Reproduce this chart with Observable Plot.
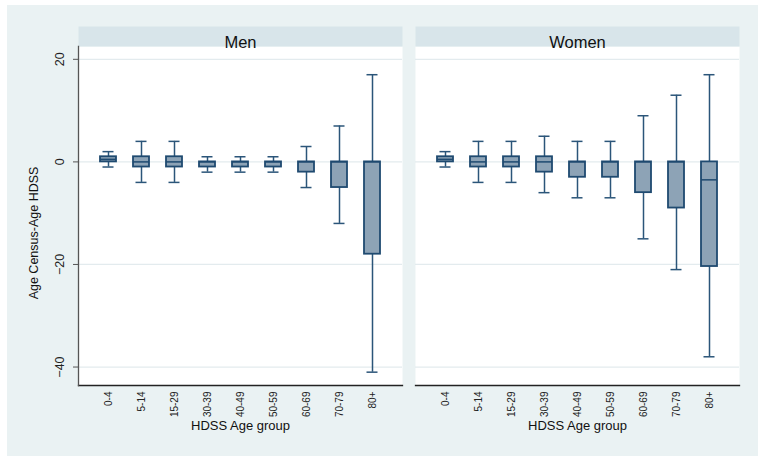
<!DOCTYPE html>
<html><head><meta charset="utf-8">
<script src="https://cdn.jsdelivr.net/npm/d3@7"></script>
<script src="https://cdn.jsdelivr.net/npm/@observablehq/plot@0.6"></script>
<style>
body{margin:0;background:#fff;font-family:"Liberation Sans",Arial,sans-serif;}
#wrap{position:relative;width:758px;height:456px;overflow:hidden;}
#bg{position:absolute;left:7px;top:5px;width:751px;height:451px;background:#eaf2f3;}
#chart{position:absolute;left:0;top:0;}
</style></head><body>
<div id="wrap"><div id="bg"></div><div id="chart"></div></div>
<script>
const sexes = ["Men", "Women"];
const ageGroups = ["0-4","5-14","15-29","30-39","40-49","50-59","60-69","70-79","80+"];
const menLow    = [-1, -4, -4, -2, -2, -2, -5, -12, -41];
const menQ1     = [ 0, -1, -1, -1, -1, -1, -2,  -5, -18];
const menMedian = [0.5, 0,  0,  0,  0,  0,  0,   0,   0];
const menQ3     = [ 1,  1,  1,  0,  0,  0,  0,   0,   0];
const menHigh   = [ 2,  4,  4,  1,  1,  1,  3,   7,  17];
const womenLow    = [-1, -4, -4, -6, -7, -7, -15, -21, -38];
const womenQ1     = [ 0, -1, -1, -2, -3, -3,  -6,  -9, -20.4];
const womenMedian = [0.5, 0,  0,  0,  0,  0,   0,   0, -3.5];
const womenQ3     = [ 1,  1,  1,  1,  0,  0,   0,   0,   0];
const womenHigh   = [ 2,  4,  4,  5,  4,  4,   9,  13,  17];
const yTicks = [20, 0, -20, -40];
const xTitle = "HDSS Age group";
const yTitle = "Age Census-Age HDSS";

const series = {
  Men: [menLow, menQ1, menMedian, menQ3, menHigh],
  Women: [womenLow, womenQ1, womenMedian, womenQ3, womenHigh]
};
const rows = [];
for (const s of sexes) {
  const [lo, q1, md, q3, hi] = series[s];
  ageGroups.forEach((a, i) => rows.push({sex: s, age: a, low: lo[i], q1: q1[i], median: md[i], q3: q3[i], high: hi[i]}));
}

const W = 758, H = 456, mL = 78, mR = 19, mT = 46, mB = 71;
const boxFill = "#8da3b6", boxStroke = "#1f4a70", whisk = "#2b5579";

const chart = Plot.plot({
  width: W, height: H,
  marginLeft: mL, marginRight: mR, marginTop: mT, marginBottom: mB,
  style: {background: "transparent", fontFamily: "'Liberation Sans', Arial, sans-serif", overflow: "visible", color: "#111"},
  fx: {domain: sexes, paddingInner: 0.0386, paddingOuter: 0, axis: null, label: null},
  x: {domain: ageGroups, paddingInner: 0.52, paddingOuter: 0.6, axis: null},
  y: {domain: [-43.6, 22.5], axis: null},
  marks: [
    Plot.frame({fill: "white", stroke: "none"}),
    Plot.frame({fill: "#d8e5ea", stroke: "none", insetTop: -20, insetBottom: H - mT - mB}),
    Plot.gridY(yTicks, {stroke: "#e3ebee", strokeOpacity: 1, strokeWidth: 1.3}),
    Plot.frame({anchor: "bottom", stroke: "#222", strokeWidth: 1.3}),
    Plot.frame({anchor: "left", stroke: "#555", strokeWidth: 1.3, facetAnchor: "left"}),
    Plot.axisY(yTicks, {tickSize: 5, tickRotate: -90, tickPadding: 10, fontSize: 12.5, label: null, stroke: "#555", fill: "#222"}),
    Plot.axisX({tickSize: 0, tickRotate: -90, tickPadding: 6, fontSize: 10, label: null, fill: "#222"}),
    Plot.ruleX(rows, {fx: "sex", x: "age", y1: "low", y2: "high", stroke: whisk, strokeWidth: 1.5}),
    Plot.barY(rows, {fx: "sex", x: "age", y1: "q1", y2: "q3", fill: boxFill, stroke: boxStroke, strokeWidth: 1.8}),
    Plot.tickY(rows, {fx: "sex", x: "age", y: "median", stroke: boxStroke, strokeWidth: 1.5}),
    Plot.tickY(rows, {fx: "sex", x: "age", y: "low", stroke: whisk, strokeWidth: 1.5, inset: 2.5}),
    Plot.tickY(rows, {fx: "sex", x: "age", y: "high", stroke: whisk, strokeWidth: 1.5, inset: 2.5}),
    Plot.text(sexes, {fx: d => d, text: d => d, frameAnchor: "top", dy: -10, fontSize: 16.5, fill: "#111"}),
    Plot.text(sexes, {fx: d => d, text: () => xTitle, frameAnchor: "bottom", dy: 44, fontSize: 13, fill: "#111"}),
    Plot.text(sexes.slice(0, 1), {fx: d => d, text: () => yTitle, frameAnchor: "left", textAnchor: "middle", rotate: -90, dx: -45, dy: 17, fontSize: 12.5, fill: "#111"})
  ]
});
document.getElementById("chart").appendChild(chart);
</script>
</body></html>
